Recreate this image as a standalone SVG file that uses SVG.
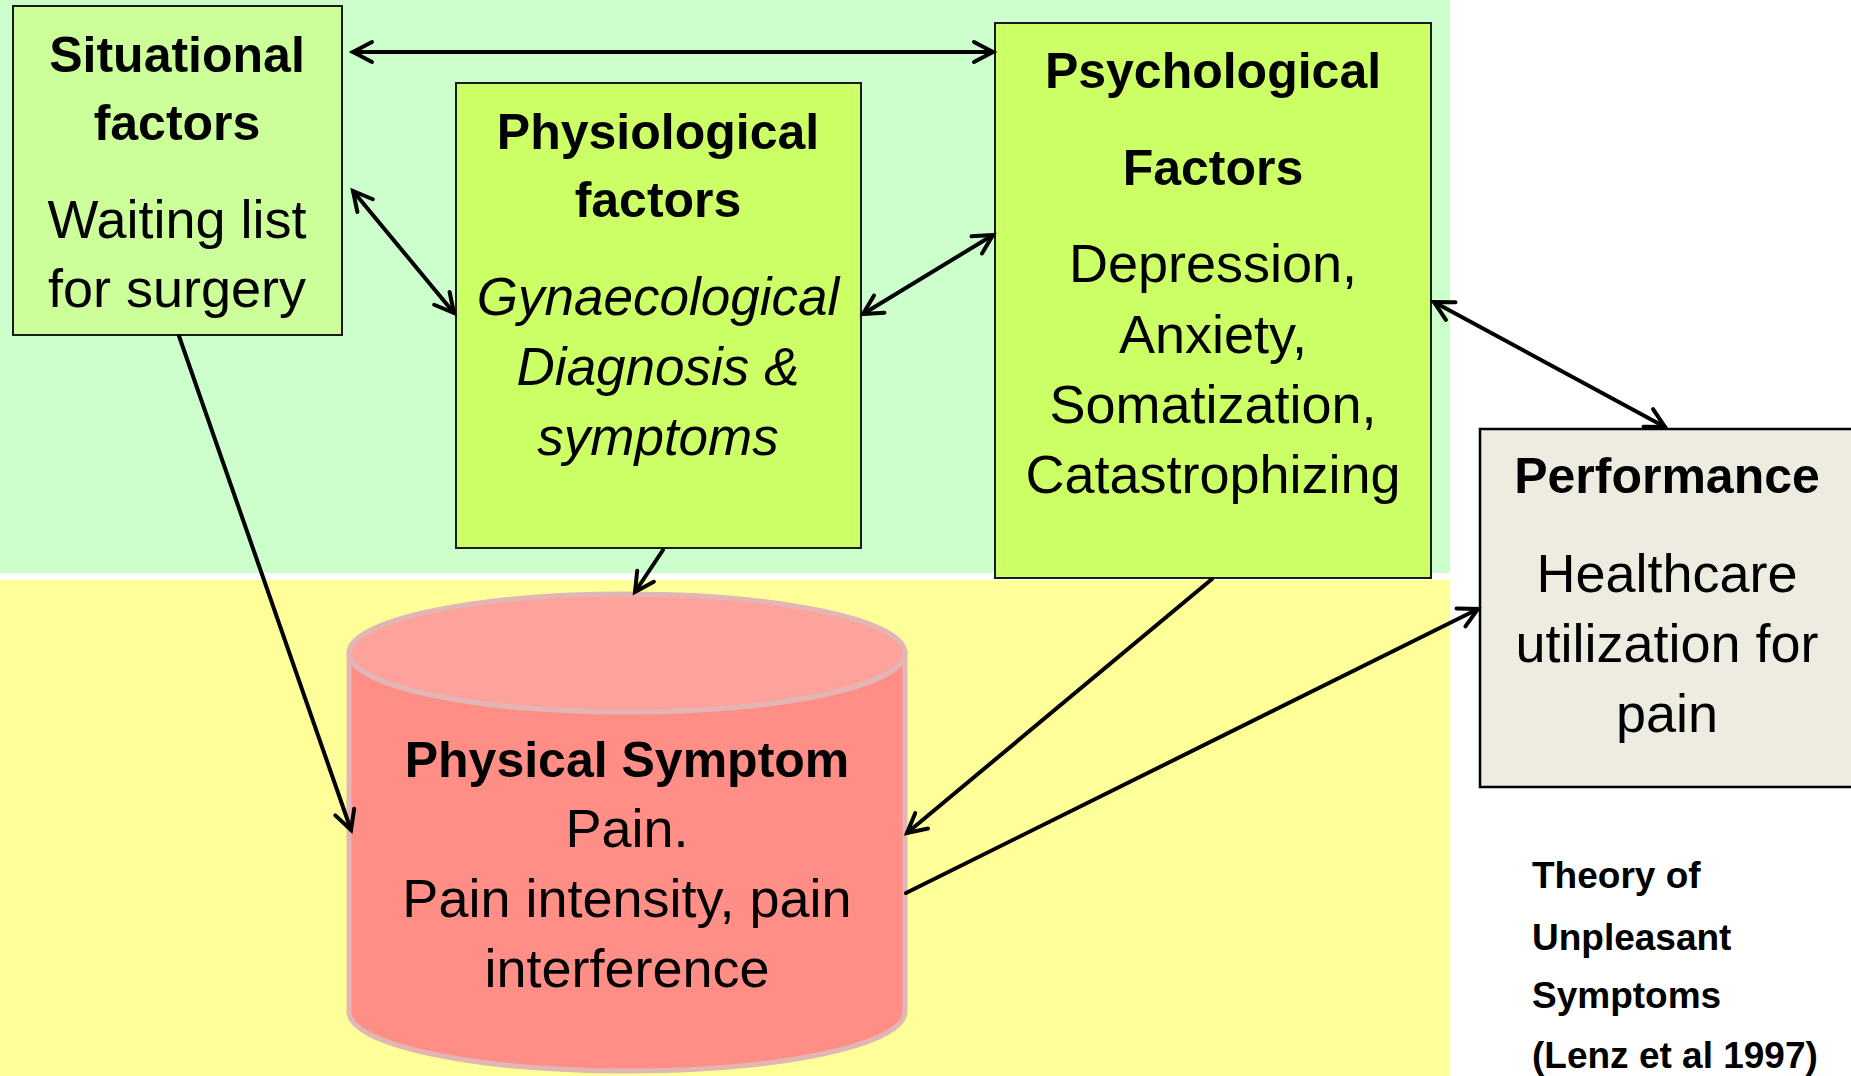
<svg xmlns="http://www.w3.org/2000/svg" width="1851" height="1076" viewBox="0 0 1851 1076">
  <style>
    .t { font-family: "Liberation Sans", Arial, sans-serif; fill: #000; text-anchor: middle; }
    .b { font-weight: bold; font-size: 50px; }
    .r { font-size: 54px; }
    .i { font-size: 53px; font-style: italic; }
    .box { stroke: #1a1a1a; stroke-width: 2; }
    .conn { stroke: #000; stroke-width: 4; fill: none; stroke-linecap: round; }
    .note { font-family: "Liberation Sans", Arial, sans-serif; font-weight: bold; font-size: 37px; fill: #000; }
  </style>
  <defs>
    <marker id="arr" markerUnits="userSpaceOnUse" markerWidth="28" markerHeight="28" refX="22" refY="13" orient="auto-start-reverse">
      <path d="M3,3 L22,13 L3,23" fill="none" stroke="#000" stroke-width="4" stroke-linecap="round" stroke-linejoin="miter"/>
    </marker>
  </defs>

  <!-- backgrounds -->
  <rect x="0" y="0" width="1851" height="1076" fill="#ffffff"/>
  <rect x="0" y="0" width="1450" height="573" fill="#CCFFCC"/>
  <rect x="0" y="580" width="1450" height="496" fill="#FFFF99"/>

  <g id="situational">
    <rect class="box" x="13" y="6" width="329" height="329" fill="#CCFF99"/>
    <text class="t b" x="177" y="72">Situational</text>
    <text class="t b" x="177" y="140">factors</text>
    <text class="t r" x="177" y="238">Waiting list</text>
    <text class="t r" x="177" y="307">for surgery</text>
  </g>

  <g id="physiological">
    <rect class="box" x="456" y="83" width="405" height="465" fill="#CCFF66"/>
    <text class="t b" x="658" y="149">Physiological</text>
    <text class="t b" x="658" y="217">factors</text>
    <text class="t i" x="658" y="315">Gynaecological</text>
    <text class="t i" x="658" y="385">Diagnosis &amp;</text>
    <text class="t i" x="658" y="455">symptoms</text>
  </g>

  <g id="psychological">
    <rect class="box" x="995" y="23" width="436" height="555" fill="#CCFF66"/>
    <text class="t b" x="1213" y="88">Psychological</text>
    <text class="t b" x="1213" y="185">Factors</text>
    <text class="t r" x="1213" y="282">Depression,</text>
    <text class="t r" x="1213" y="353">Anxiety,</text>
    <text class="t r" x="1213" y="423">Somatization,</text>
    <text class="t r" x="1213" y="493">Catastrophizing</text>
  </g>

  <g id="performance">
    <rect x="1480" y="429" width="374" height="358" fill="#EEECE1" stroke="#000" stroke-width="2.5"/>
    <text class="t b" x="1667" y="493">Performance</text>
    <text class="t r" x="1667" y="592">Healthcare</text>
    <text class="t r" x="1667" y="662">utilization for</text>
    <text class="t r" x="1667" y="732">pain</text>
  </g>

  <g id="physical-symptom">
    <path d="M349,653 L349,1012 A278,59 0 0 0 905,1012 L905,653 Z" fill="#FF8F86" stroke="#E3B6B6" stroke-width="5"/>
    <ellipse cx="627" cy="653" rx="278" ry="59" fill="#FDA39B" stroke="#E3B6B6" stroke-width="5"/>
    <text class="t b" x="627" y="777">Physical Symptom</text>
    <text class="t r" x="627" y="847">Pain.</text>
    <text class="t r" x="627" y="917">Pain intensity, pain</text>
    <text class="t r" x="627" y="987">interference</text>
  </g>

  <g id="note">
    <text class="note" x="1532" y="888">Theory of</text>
    <text class="note" x="1532" y="950">Unpleasant</text>
    <text class="note" x="1532" y="1008">Symptoms</text>
    <text class="note" x="1532" y="1068">(Lenz et al 1997)</text>
  </g>

  <g id="connectors">
    <line class="conn" x1="353" y1="52" x2="993" y2="52" marker-start="url(#arr)" marker-end="url(#arr)"/>
    <line class="conn" x1="353" y1="191" x2="454" y2="313" marker-start="url(#arr)" marker-end="url(#arr)"/>
    <line class="conn" x1="863" y1="314" x2="993" y2="235" marker-start="url(#arr)" marker-end="url(#arr)"/>
    <line class="conn" x1="1434" y1="302" x2="1665" y2="427" marker-start="url(#arr)" marker-end="url(#arr)"/>
    <line class="conn" x1="179" y1="336" x2="351" y2="830" marker-end="url(#arr)"/>
    <line class="conn" x1="663" y1="550" x2="635" y2="592" marker-end="url(#arr)"/>
    <line class="conn" x1="1212" y1="579" x2="907" y2="833" marker-end="url(#arr)"/>
    <line class="conn" x1="906" y1="893" x2="1478" y2="609" marker-end="url(#arr)"/>
  </g>
</svg>
